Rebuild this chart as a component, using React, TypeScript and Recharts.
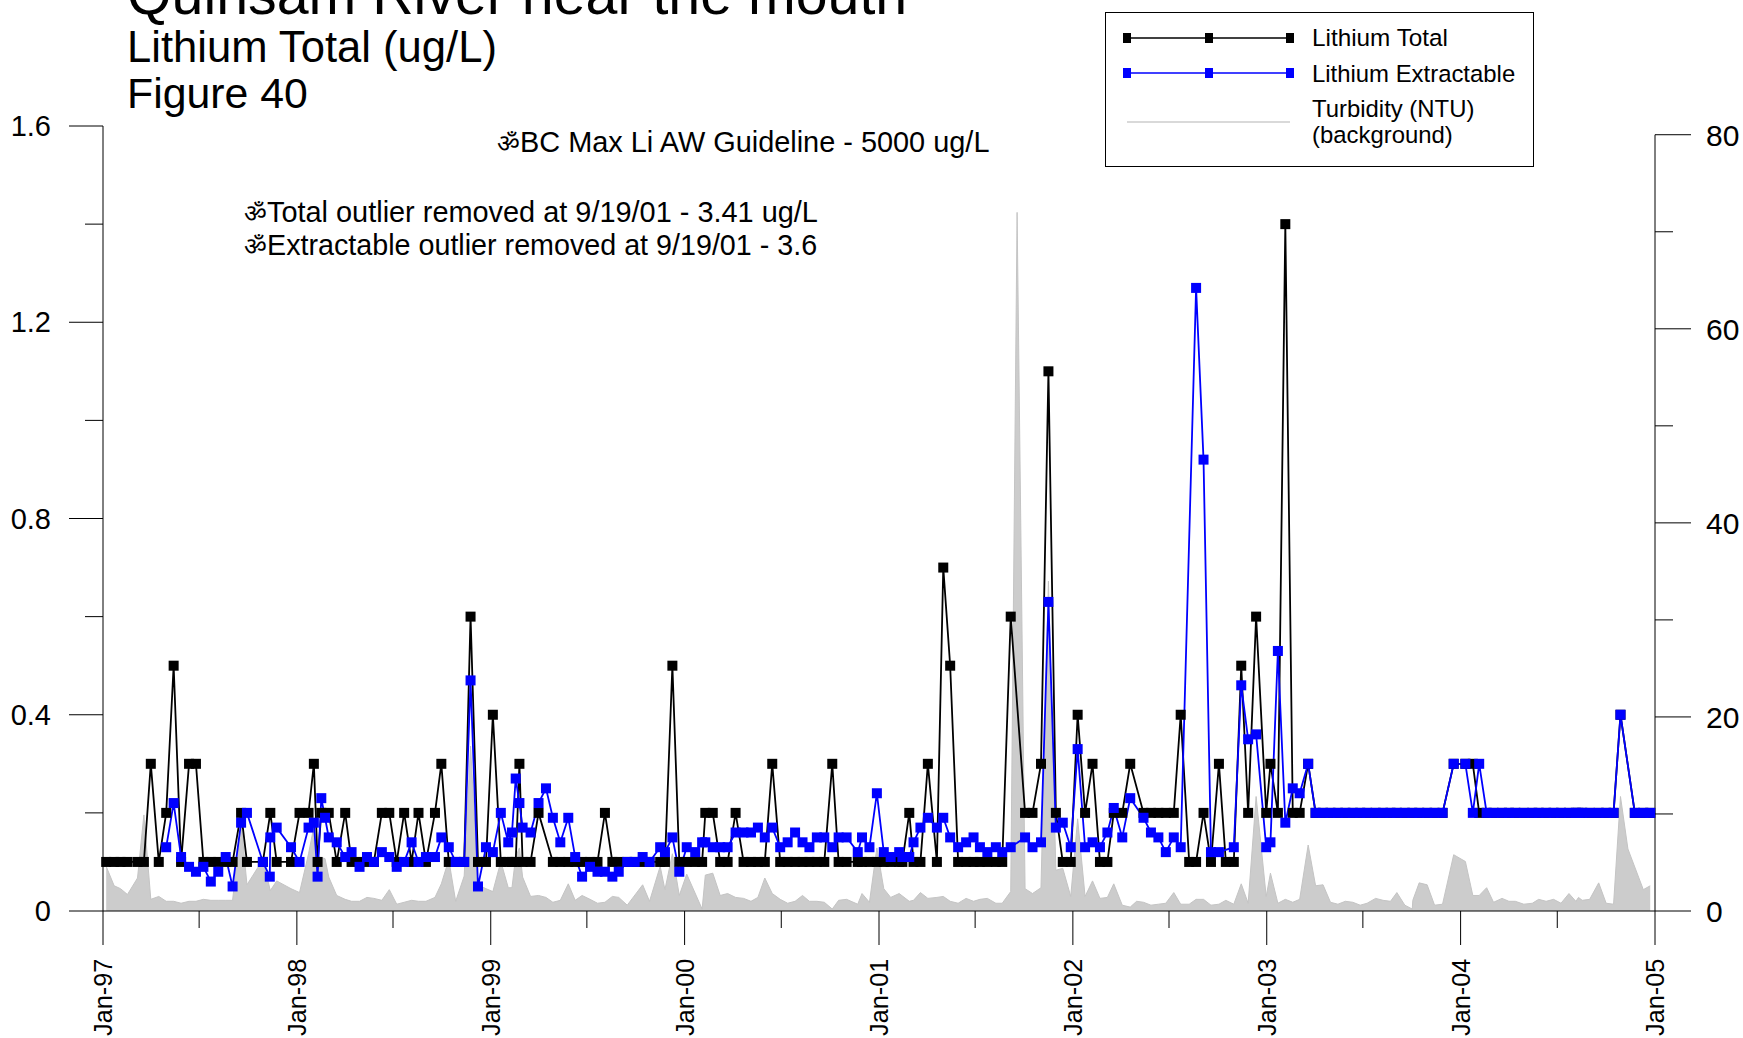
import { Area, ComposedChart, Line, ReferenceLine, XAxis, YAxis } from "recharts";

const _ = null;
const FONT = '"Liberation Sans", Arial, sans-serif';

// sampling dates, as days since 1 Jan 1997
const sampleDays = [
  6, 21, 33, 46, 65, 77, 90, 105, 119, 133,
  147, 162, 175, 189, 203, 217, 231, 244, 260, 271,
  301, 314, 315, 327, 354, 370, 387, 397, 404, 411,
  418, 425, 440, 456, 468, 483, 497, 510, 525, 539,
  553, 567, 581, 594, 608, 625, 637, 651, 664, 680,
  692, 706, 721, 734, 749, 763, 770, 777, 784, 790,
  805, 820, 834, 847, 861, 876, 889, 902, 917, 931,
  945, 959, 971, 987, 1001, 1016, 1029, 1049, 1058, 1072,
  1085, 1099, 1115, 1128, 1134, 1148, 1162, 1176, 1191, 1206,
  1220, 1233, 1246, 1260, 1275, 1289, 1303, 1317, 1330, 1344,
  1358, 1373, 1385, 1400, 1421, 1429, 1443, 1457, 1470, 1483,
  1499, 1505, 1518, 1526, 1539, 1553, 1570, 1582, 1595, 1610,
  1625, 1639, 1651, 1665, 1681, 1693, 1709, 1721, 1736, 1750,
  1766, 1780, 1794, 1807, 1822, 1835, 1849, 1863, 1877, 1891,
  1903, 1919, 1934, 1946, 1959, 1973, 1987, 2001, 2016, 2029,
  2045, 2058, 2072, 2086, 2101, 2114, 2129, 2143, 2156, 2171,
  2190, 2198, 2212, 2226, 2240, 2253, 2269, 2283, 2297, 2311,
  2325, 2339, 2353, 2367, 2380, 2396, 2410, 2424, 2436, 2451,
  2465, 2466, 2478, 2493, 2507, 2522, 2543, 2565, 2579, 2591,
  2605, 2618, 2634, 2647, 2659, 2675, 2691, 2703, 2717, 2731,
  2745, 2760, 2773, 2778, 2785, 2799, 2816, 2830, 2844, 2857,
  2871, 2884, 2900, 2913,
];

const lithiumTotal = [
  0.1, 0.1, 0.1, 0.1, 0.1, 0.1, 0.3, 0.1, 0.2, 0.5,
  0.1, 0.3, 0.3, 0.1, 0.1, 0.1, 0.1, 0.1, 0.2, 0.1,
  0.1, _, 0.2, 0.1, 0.1, 0.2, 0.2, 0.3, 0.1, 0.2,
  _, 0.2, 0.1, 0.2, 0.1, 0.1, 0.1, 0.1, 0.2, 0.2,
  0.1, 0.2, 0.1, 0.2, 0.1, 0.2, 0.3, 0.1, 0.1, 0.1,
  0.6, 0.1, 0.1, 0.4, 0.1, 0.1, 0.1, 0.1, 0.3, 0.1,
  0.1, 0.2, _, 0.1, 0.1, 0.1, 0.1, 0.1, 0.1, 0.1,
  0.2, 0.1, 0.1, 0.1, 0.1, 0.1, 0.1, 0.1, 0.1, 0.5,
  0.1, 0.1, 0.1, 0.1, 0.2, 0.2, 0.1, 0.1, 0.2, 0.1,
  0.1, 0.1, 0.1, 0.3, 0.1, 0.1, 0.1, 0.1, 0.1, 0.1,
  0.1, 0.3, 0.1, 0.1, 0.1, 0.1, 0.1, 0.1, 0.1, 0.1,
  0.1, 0.1, 0.2, 0.1, 0.1, 0.3, 0.1, 0.7, 0.5, 0.1,
  0.1, 0.1, 0.1, 0.1, 0.1, 0.1, 0.6, _, 0.2, 0.2,
  0.3, 1.1, 0.2, 0.1, 0.1, 0.4, 0.2, 0.3, 0.1, 0.1,
  0.2, 0.2, 0.3, _, 0.2, 0.2, 0.2, 0.2, 0.2, 0.4,
  0.1, 0.1, 0.2, 0.1, 0.3, 0.1, 0.1, 0.5, 0.2, 0.6,
  0.2, 0.3, 0.2, 1.4, 0.2, 0.2, 0.3, 0.2, 0.2, 0.2,
  0.2, 0.2, 0.2, 0.2, 0.2, 0.2, 0.2, 0.2, 0.2, 0.2,
  0.2, _, 0.2, 0.2, 0.2, 0.2, 0.3, 0.3, 0.3, 0.2,
  0.2, 0.2, 0.2, 0.2, 0.2, 0.2, 0.2, 0.2, 0.2, 0.2,
  0.2, 0.2, 0.2, 0.2, 0.2, 0.2, 0.2, 0.2, 0.2, 0.4,
  _, 0.2, 0.2, 0.2,
];

const lithiumExtractable = [
  _, _, _, _, _, _, _, _, 0.13, 0.22,
  0.11, 0.09, 0.08, 0.09, 0.06, 0.08, 0.11, 0.05, 0.18, 0.2,
  0.1, 0.07, 0.15, 0.17, 0.13, 0.1, 0.17, 0.18, 0.07, 0.23,
  0.19, 0.15, 0.14, 0.11, 0.12, 0.09, 0.11, 0.1, 0.12, 0.11,
  0.09, 0.1, 0.14, 0.1, 0.11, 0.11, 0.15, 0.13, 0.1, 0.1,
  0.47, 0.05, 0.13, 0.12, 0.2, 0.14, 0.16, 0.27, 0.22, 0.17,
  0.16, 0.22, 0.25, 0.19, 0.14, 0.19, 0.11, 0.07, 0.09, 0.08,
  0.08, 0.07, 0.08, 0.1, 0.1, 0.11, 0.1, 0.13, 0.12, 0.15,
  0.08, 0.13, 0.12, 0.14, 0.14, 0.13, 0.13, 0.13, 0.16, 0.16,
  0.16, 0.17, 0.15, 0.17, 0.13, 0.14, 0.16, 0.14, 0.13, 0.15,
  0.15, 0.13, 0.15, 0.15, 0.12, 0.15, 0.13, 0.24, 0.12, 0.11,
  0.12, 0.11, 0.11, 0.14, 0.17, 0.19, 0.17, 0.19, 0.15, 0.13,
  0.14, 0.15, 0.13, 0.12, 0.13, 0.12, 0.13, _, 0.15, 0.13,
  0.14, 0.63, 0.17, 0.18, 0.13, 0.33, 0.13, 0.14, 0.13, 0.16,
  0.21, 0.15, 0.23, _, 0.19, 0.16, 0.15, 0.12, 0.15, 0.13,
  _, 1.27, 0.92, 0.12, 0.12, _, 0.13, 0.46, 0.35, 0.36,
  0.13, 0.14, 0.53, 0.18, 0.25, 0.24, 0.3, 0.2, 0.2, 0.2,
  0.2, 0.2, 0.2, 0.2, 0.2, 0.2, 0.2, 0.2, 0.2, 0.2,
  0.2, _, 0.2, 0.2, 0.2, 0.2, 0.3, 0.3, 0.2, 0.3,
  0.2, 0.2, 0.2, 0.2, 0.2, 0.2, 0.2, 0.2, 0.2, 0.2,
  0.2, 0.2, 0.2, 0.2, 0.2, 0.2, 0.2, 0.2, 0.2, 0.4,
  _, 0.2, 0.2, 0.2,
];

const turbidity = [
  4.6, 2.6, 2.3, 1.7, 3.4, 9.9, 1.2, 1.5, 1, 1,
  0.8, 1, 1, 1.2, 1.1, 1.1, 1.1, 1.1, 9.2, 2.7,
  5.3, _, 2.1, 3.1, 2.3, 1.9, 5.9, 8.7, 5.6, _,
  5.4, 3.5, 1.6, 1.2, 1, 1, 1.4, 1.3, 1.1, 2.2,
  0.7, 0.9, 1.1, 1, 1, 1.4, 2.8, 5.3, 1, 3.6,
  17, 2.7, 2.3, 2, 5.1, 2.4, 2.4, 5.6, 6.5, 3.5,
  1.5, 1.6, 1.4, 0.9, 1.1, 2.8, 1.1, 1.6, 1.2, 0.8,
  0.9, 1.5, 1.4, 0.6, _, 2.7, 1, 4.6, 2.2, 5.9,
  1.6, 3.8, _, 0.2, 3.7, 3.9, 1.6, 1.8, 1.4, 1.3,
  1, 1.4, 3.4, 1.8, 1.2, 0.8, 1, 1.6, 1, 1,
  0.9, 0.2, 1.1, 1.2, 0.7, 1.8, 0.9, 6.5, 2.3, 1.4,
  1.8, _, 1, 1.1, 1.9, 1.3, 1.4, 1.5, 1, 0.8,
  1.3, 1, 1.2, 1.3, 0.8, 0.8, 2, 72, 2.3, 1.8,
  2.4, 34, 4.2, 4.4, 1.5, 9.5, 1.5, 3.1, 1.3, 1.4,
  2.8, 0.6, 0.4, 1, 0.9, 0.6, 0.7, 0.8, 1.9, 0.7,
  0.7, 1.2, 1.2, 0.6, 0.7, 1.1, 0.7, 2.8, 0.8, 11.8,
  1.5, 3.9, 0.8, 1.2, 0.9, 1.2, 6.8, 2.6, 2.7, 0.9,
  0.7, 1, 0.9, 0.6, 0.8, 1.3, 1.1, 1, 1.9, 0.6,
  0.2, 1.1, 2.9, 2.7, 0.6, 0.7, 5.8, 5.1, 1.6, 1.6,
  2.4, 0.9, 1.3, 1, 1, 0.7, 0.8, 1.2, 1, 1.2,
  0.8, 1.8, 1, 1.4, 1.1, 1.2, 2.9, 0.8, 0.7, 11.8,
  6.4, _, 2.2, 2.6,
];

const xTicks = [0, 181, 365, 546, 730, 911, 1095, 1277, 1461, 1642, 1826, 2007, 2191, 2372, 2556, 2738, 2922];
const xLabels: Record<number, string> = {
  0: "Jan-97", 365: "Jan-98", 730: "Jan-99", 1095: "Jan-00", 1461: "Jan-01",
  1826: "Jan-02", 2191: "Jan-03", 2556: "Jan-04", 2922: "Jan-05",
};
const leftTicks = [0, 0.2, 0.4, 0.6, 0.8, 1, 1.2, 1.4, 1.6];
const leftLabels = [0, 0.4, 0.8, 1.2, 1.6];
const rightTicks = [0, 10, 20, 30, 40, 50, 60, 70, 80];
const rightLabels = [0, 20, 40, 60, 80];

const rows = sampleDays.map((day, i) => ({
  day,
  total: lithiumTotal[i],
  extractable: lithiumExtractable[i],
  turbidity: turbidity[i],
}));

function squareDot(color: string) {
  return (props: any) => {
    const { cx, cy, index } = props;
    if (cx == null || cy == null) return <g key={index} />;
    return <rect key={index} x={cx - 5} y={cy - 5} width={10} height={10} fill={color} />;
  };
}

function BottomTick({ x, y, payload }: any) {
  const label = xLabels[payload.value];
  const bx = x + 9;
  return (
    <g>
      <line x1={x} y1={y} x2={x} y2={y + (label ? 34 : 17)} stroke="#000" />
      {label && (
        <text x={bx} y={1036} transform={`rotate(-90 ${bx} 1036)`} fontSize={25.3} fontFamily={FONT} fill="#000">
          {label}
        </text>
      )}
    </g>
  );
}

function LeftTick({ x, y, payload }: any) {
  const major = leftLabels.includes(payload.value);
  return (
    <g>
      <line x1={x - (major ? 34 : 18)} y1={y} x2={x} y2={y} stroke="#000" />
      {major && (
        <text x={x - 52} y={y + 10} textAnchor="end" fontSize={29} fontFamily={FONT} fill="#000">
          {payload.value === 0 ? "0" : payload.value.toFixed(1)}
        </text>
      )}
    </g>
  );
}

function RightTick({ x, y, payload }: any) {
  const major = rightLabels.includes(payload.value);
  return (
    <g>
      <line x1={x} y1={y} x2={x + (major ? 36 : 18)} y2={y} stroke="#000" />
      {major && (
        <text x={x + 51} y={y + 11} fontSize={30} fontFamily={FONT} fill="#000">
          {payload.value}
        </text>
      )}
    </g>
  );
}

function Overlay() {
  const legendMarks = [1127, 1209, 1290];
  return (
    <svg width={1743} height={1038} style={{ position: "absolute", left: 0, top: 0 }} fontFamily={FONT}>
      <text x={127} y={14} fontSize={57.3}>Quinsam River near the mouth</text>
      <text x={127} y={62} fontSize={43.6}>Lithium Total (ug/L)</text>
      <text x={127} y={108} fontSize={42.8}>Figure 40</text>

      <text x={497} y={152} fontSize={28.9}><tspan fontSize={25}>ॐ</tspan>BC Max Li AW Guideline - 5000 ug/L</text>
      <text x={244} y={222} fontSize={28.9}><tspan fontSize={25}>ॐ</tspan>Total outlier removed at 9/19/01 - 3.41 ug/L</text>
      <text x={244} y={255} fontSize={28.7}><tspan fontSize={25}>ॐ</tspan>Extractable outlier removed at 9/19/01 - 3.6</text>

      <rect x={1105.5} y={12.5} width={428} height={154} fill="#fff" stroke="#000" />
      <line x1={1127} x2={1290} y1={38} y2={38} stroke="#000" strokeWidth={1.5} />
      <line x1={1127} x2={1290} y1={73} y2={73} stroke="#0000ff" strokeWidth={1.5} />
      <line x1={1127} x2={1290} y1={122} y2={122} stroke="#cccccc" strokeWidth={1.5} />
      {legendMarks.map((mx) => (
        <g key={mx}>
          <rect x={mx - 4} y={33} width={8} height={10} fill="#000" />
          <rect x={mx - 4} y={68} width={8} height={10} fill="#0000ff" />
        </g>
      ))}
      <text x={1312} y={46} fontSize={24.3}>Lithium Total</text>
      <text x={1312} y={82} fontSize={23.9}>Lithium Extractable</text>
      <text x={1312} y={117} fontSize={23.9}>Turbidity (NTU)</text>
      <text x={1312} y={143} fontSize={23.9}>(background)</text>
    </svg>
  );
}

export default function App() {
  return (
    <div style={{ position: "absolute", left: 0, top: 0, width: 1743, height: 1038, overflow: "hidden", background: "#fff" }}>
      <ComposedChart
        width={1743}
        height={1038}
        data={rows}
        margin={{ top: 126, right: 0, bottom: 67, left: 0 }}
      >
        <XAxis
          dataKey="day"
          type="number"
          domain={[0, 2922]}
          ticks={xTicks}
          interval={0}
          height={60}
          tickLine={false}
          tickSize={0}
          tickMargin={0}
          stroke="#000"
          tick={BottomTick}
        />
        <YAxis
          yAxisId="left"
          domain={[0, 1.6]}
          ticks={leftTicks}
          interval={0}
          width={103}
          tickLine={false}
          tickSize={0}
          tickMargin={0}
          stroke="#000"
          tick={LeftTick}
        />
        <YAxis
          yAxisId="right"
          orientation="right"
          domain={[0, 80.9]}
          ticks={rightTicks}
          interval={0}
          width={88}
          axisLine={false}
          tickLine={false}
          tickSize={0}
          tickMargin={0}
          tick={RightTick}
        />
        <Area
          yAxisId="right"
          dataKey="turbidity"
          type="linear"
          connectNulls
          fill="#cccccc"
          fillOpacity={1}
          stroke="#c4c4c4"
          strokeWidth={1}
          dot={false}
          activeDot={false}
          isAnimationActive={false}
        />
        <ReferenceLine
          yAxisId="right"
          segment={[{ x: 2922, y: 0 }, { x: 2922, y: 80 }]}
          stroke="#000"
        />
        <Line
          yAxisId="left"
          dataKey="total"
          type="linear"
          connectNulls
          stroke="#000"
          strokeWidth={1.8}
          dot={squareDot("#000")}
          activeDot={false}
          isAnimationActive={false}
        />
        <Line
          yAxisId="left"
          dataKey="extractable"
          type="linear"
          connectNulls
          stroke="#0000ff"
          strokeWidth={1.8}
          dot={squareDot("#0000ff")}
          activeDot={false}
          isAnimationActive={false}
        />
      </ComposedChart>
      <Overlay />
    </div>
  );
}
